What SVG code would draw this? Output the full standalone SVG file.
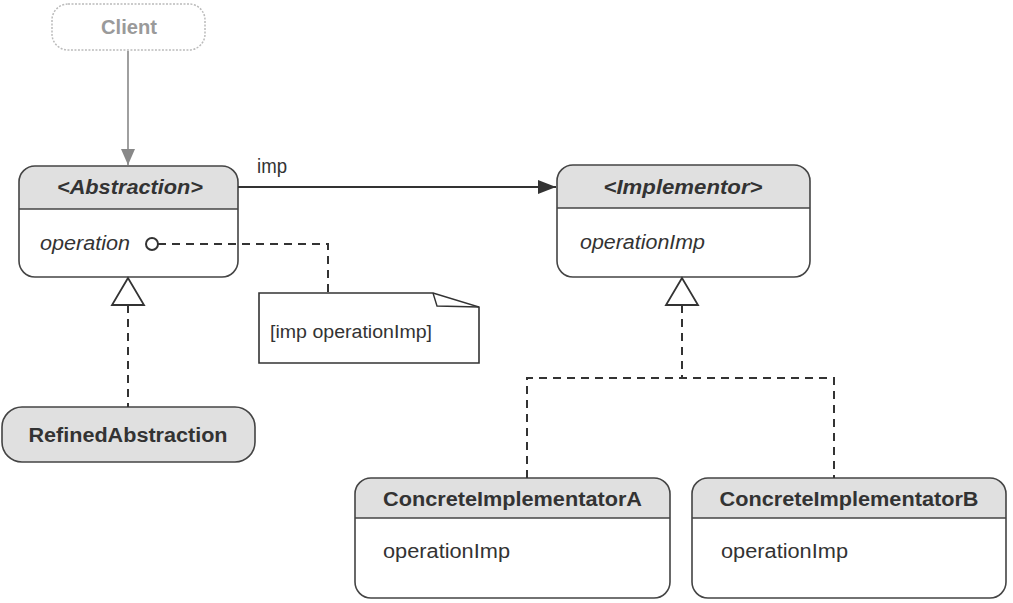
<svg xmlns="http://www.w3.org/2000/svg" width="1013" height="603" viewBox="0 0 1013 603">
<style>
  .box{fill:none;stroke:#444;stroke-width:1.6}
  .hdr{fill:#e0e0e0;stroke:none}
  .div{stroke:#444;stroke-width:1.5}
  .t{font-family:"Liberation Sans",Arial,Helvetica,sans-serif;font-size:20px;fill:#333}
  .b{font-weight:bold}
  .i{font-style:italic}
  .dash{fill:none;stroke:#333;stroke-width:2;stroke-dasharray:8 6}
  .solid{fill:none;stroke:#333;stroke-width:1.8}
</style>
<defs>
  <marker id="arr" viewBox="0 0 18 14" refX="18" refY="7" markerWidth="18" markerHeight="14" markerUnits="userSpaceOnUse" orient="auto">
    <path d="M0,0 L18,7 L0,14 Z" fill="#333"/>
  </marker>
  <marker id="arrGray" viewBox="0 0 16 14" refX="16" refY="7" markerWidth="16" markerHeight="14" markerUnits="userSpaceOnUse" orient="auto">
    <path d="M0,0 L16,7 L0,14 Z" fill="#888"/>
  </marker>
  <clipPath id="cAbs"><rect x="19" y="166" width="219" height="111" rx="16"/></clipPath>
  <clipPath id="cImp"><rect x="557" y="165" width="253" height="112" rx="16"/></clipPath>
  <clipPath id="cA"><rect x="355" y="478" width="315" height="120" rx="16"/></clipPath>
  <clipPath id="cB"><rect x="692" y="478" width="314" height="120" rx="16"/></clipPath>
</defs>

<g id="client">
  <rect x="52" y="4" width="153" height="46" rx="16" fill="#fff" stroke="#bbb" stroke-width="1.5" stroke-dasharray="2 1.5"/>
  <text x="129" y="34" class="t b" style="fill:#9a9a9a" text-anchor="middle" textLength="56" lengthAdjust="spacingAndGlyphs">Client</text>
</g>

<g id="abstraction">
  <rect x="19" y="166" width="219" height="111" rx="16" fill="#fff"/>
  <rect x="19" y="166" width="219" height="43" class="hdr" clip-path="url(#cAbs)"/>
  <line x1="19" y1="209" x2="238" y2="209" class="div"/>
  <rect x="19" y="166" width="219" height="111" rx="16" class="box"/>
  <text x="130" y="194" class="t b i" text-anchor="middle" textLength="146" lengthAdjust="spacingAndGlyphs">&lt;Abstraction&gt;</text>
  <text x="40" y="250" class="t i" textLength="90" lengthAdjust="spacingAndGlyphs">operation</text>
</g>

<g id="note">
  <path d="M259,293 H433 L479,307 V363 H259 Z" fill="#fff" stroke="#333" stroke-width="1.6"/>
  <path d="M433,293 L437,306 L479,307" fill="none" stroke="#333" stroke-width="1.4"/>
  <text x="270" y="338" class="t" style="font-size:18px" textLength="162" lengthAdjust="spacingAndGlyphs">[imp operationImp]</text>
</g>

<g id="refinedAbstraction">
  <rect x="2" y="407" width="253" height="55" rx="20" fill="#e0e0e0" stroke="#444" stroke-width="1.6"/>
  <text x="128" y="442" class="t b" text-anchor="middle" textLength="199" lengthAdjust="spacingAndGlyphs">RefinedAbstraction</text>
</g>

<g id="implementor">
  <rect x="557" y="165" width="253" height="112" rx="16" fill="#fff"/>
  <rect x="557" y="165" width="253" height="43" class="hdr" clip-path="url(#cImp)"/>
  <line x1="557" y1="208" x2="810" y2="208" class="div"/>
  <rect x="557" y="165" width="253" height="112" rx="16" class="box"/>
  <text x="683" y="194" class="t b i" text-anchor="middle" textLength="159" lengthAdjust="spacingAndGlyphs">&lt;Implementor&gt;</text>
  <text x="580" y="249" class="t i" textLength="125" lengthAdjust="spacingAndGlyphs">operationImp</text>
</g>

<g id="concreteImplementorA">
  <rect x="355" y="478" width="315" height="120" rx="16" fill="#fff"/>
  <rect x="355" y="478" width="315" height="40" class="hdr" clip-path="url(#cA)"/>
  <line x1="355" y1="518" x2="670" y2="518" class="div"/>
  <rect x="355" y="478" width="315" height="120" rx="16" class="box"/>
  <text x="512.5" y="506" class="t b" text-anchor="middle" textLength="259" lengthAdjust="spacingAndGlyphs">ConcreteImplementatorA</text>
  <text x="383" y="558" class="t" textLength="127" lengthAdjust="spacingAndGlyphs">operationImp</text>
</g>

<g id="concreteImplementorB">
  <rect x="692" y="478" width="314" height="120" rx="16" fill="#fff"/>
  <rect x="692" y="478" width="314" height="40" class="hdr" clip-path="url(#cB)"/>
  <line x1="692" y1="518" x2="1006" y2="518" class="div"/>
  <rect x="692" y="478" width="314" height="120" rx="16" class="box"/>
  <text x="849" y="506" class="t b" text-anchor="middle" textLength="259" lengthAdjust="spacingAndGlyphs">ConcreteImplementatorB</text>
  <text x="721" y="558" class="t" textLength="127" lengthAdjust="spacingAndGlyphs">operationImp</text>
</g>

<g id="connectors">
  <line x1="128" y1="51" x2="128" y2="165" stroke="#888" stroke-width="1.6" marker-end="url(#arrGray)"/>
  <line x1="238" y1="187" x2="556" y2="187" class="solid" marker-end="url(#arr)"/>
  <text x="257" y="173" class="t" textLength="30" lengthAdjust="spacingAndGlyphs">imp</text>
  <path d="M158,244 H328 V293" class="dash"/>
  <circle cx="152" cy="244" r="6" fill="#fff" stroke="#333" stroke-width="2"/>
  <path d="M128,305 V407" class="dash"/>
  <polygon points="128,278 112,305 144,305" fill="#fff" stroke="#333" stroke-width="1.8"/>
  <path d="M682,305 V378" class="dash"/>
  <path d="M527,478 V378 H834 V478" class="dash"/>
  <polygon points="682,278 666,305 698,305" fill="#fff" stroke="#333" stroke-width="1.8"/>
</g>
</svg>
